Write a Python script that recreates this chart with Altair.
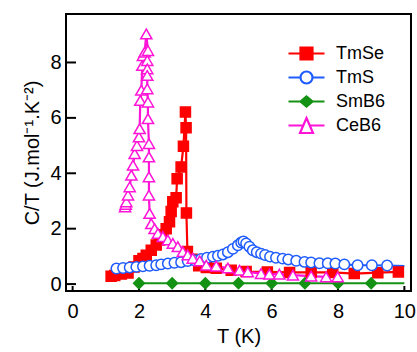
import altair as alt
import pandas as pd

series_names = ["TmSe", "TmS", "SmB6", "CeB6"]
colors = ["#ff0000", "#1f5cff", "#149214", "#ff14d8"]
fills = ["#ff0000", "#ffffff", "#149214", "#ffffff"]
shapes = ["square", "circle", "diamond", "triangle-up"]
sizes = [100, 125, 95, 125]
legend_paths = [
    "M-1.8,0H-0.6M0.6,0H1.8M-0.6,-0.6H0.6V0.6H-0.6Z",
    "M-1.8,0H-0.6M0.6,0H1.8M0.6,0A0.6,0.6,0,1,1,-0.6,0A0.6,0.6,0,1,1,0.6,0Z",
    "M-1.8,0H-0.6M0.6,0H1.8M-0.6,0L0,-0.5L0.6,0L0,0.5Z",
    "M-1.8,0H-0.33M0.33,0H1.8M0,-0.75L0.65,0.75H-0.65Z",
]

tmse_T = [1.16, 1.27, 1.47, 1.67, 1.85, 2.0, 2.12, 2.22, 2.37, 2.52, 2.62, 2.72, 2.82,
          2.92, 2.97, 3.02, 3.12, 3.15, 3.27, 3.34, 3.40, 3.42, 3.43, 3.46, 3.6, 3.8,
          4.03, 4.33, 4.78, 5.23, 5.87, 6.54, 7.19, 7.84, 8.49, 9.2, 9.82]
tmse_C = [0.28, 0.31, 0.36, 0.40, 0.62, 0.84, 0.92, 1.04, 1.22, 1.41, 1.59, 1.78, 2.0,
          2.25, 2.62, 2.97, 3.12, 3.8, 4.23, 4.98, 6.21, 5.64, 2.57, 1.18, 0.9, 0.66,
          0.6, 0.57, 0.5, 0.45, 0.44, 0.42, 0.42, 0.42, 0.38, 0.41, 0.44]

tms_T = [1.32, 1.52, 1.72, 1.92, 2.12, 2.32, 2.52, 2.67, 2.87, 3.07, 3.27, 3.47, 3.67,
         3.87, 4.05, 4.23, 4.38, 4.53, 4.68, 4.83, 4.98, 5.08, 5.15, 5.23, 5.33, 5.43,
         5.55, 5.68, 5.8, 5.95, 6.13, 6.33, 6.5, 6.74, 6.99, 7.19, 7.44, 7.69, 7.92,
         8.19, 8.59, 9.02, 9.48, 10.0]
tms_C = [0.56, 0.58, 0.60, 0.62, 0.64, 0.66, 0.68, 0.71, 0.74, 0.77, 0.79, 0.83, 0.86,
         0.91, 0.95, 0.99, 1.02, 1.07, 1.15, 1.27, 1.40, 1.50, 1.54, 1.47, 1.35, 1.22,
         1.15, 1.10, 1.05, 0.99, 0.95, 0.92, 0.89, 0.84, 0.80, 0.78, 0.75, 0.75, 0.74,
         0.71, 0.68, 0.68, 0.67, 0.65]
tms_mark = [True] * 43 + [False]

smb6_T = [2, 3, 4, 5, 6, 7, 8, 9, 10]
smb6_C = [0.03, 0.03, 0.03, 0.03, 0.03, 0.03, 0.03, 0.03, 0.03]
smb6_mark = [True] * 8 + [False]

ceb6_T = [1.58, 1.60, 1.62, 1.67, 1.72, 1.77, 1.82, 1.87, 1.94, 2.0, 2.02, 2.04, 2.07,
          2.10, 2.12, 2.17, 2.22, 2.27, 2.25, 2.25, 2.25, 2.25, 2.27, 2.27, 2.3, 2.3,
          2.3, 2.3, 2.32, 2.37, 2.47, 2.57, 2.72, 2.87, 3.02, 3.17, 3.32, 3.47, 3.62,
          3.83, 4.03, 4.33, 4.68, 5.03, 5.28, 5.68, 5.93, 6.23, 6.64, 7.19, 7.64, 7.99]
ceb6_C = [2.79, 2.88, 2.97, 3.21, 3.51, 3.93, 4.29, 4.71, 5.0, 5.31, 5.61, 6.63, 7.0,
          7.89, 8.25, 8.37, 9.03, 8.43, 8.07, 7.77, 7.53, 7.05, 6.57, 5.97, 5.07, 4.59,
          3.87, 3.21, 2.55, 2.18, 2.0, 1.83, 1.71, 1.59, 1.47, 1.35, 1.17, 1.05, 0.93,
          0.84, 0.68, 0.65, 0.58, 0.5, 0.44, 0.38, 0.36, 0.36, 0.32, 0.29, 0.26, 0.26]

x_ticks = [0, 2, 4, 6, 8, 10]
y_ticks = [0, 2, 4, 6, 8]

rows = []
def add(name, T, C, marks=None):
    for i, (t, c) in enumerate(zip(T, C)):
        rows.append({"series": name, "T": t, "C": c, "idx": i,
                     "mark": True if marks is None else marks[i]})

add("TmSe", tmse_T, tmse_C)
add("SmB6", smb6_T, smb6_C, smb6_mark)
add("TmS", tms_T, tms_C, tms_mark)
add("CeB6", ceb6_T, ceb6_C)
df = pd.DataFrame(rows)

FONT = "Liberation Sans"
xs = alt.Scale(domain=[-0.2, 10.2], nice=False, zero=False)
ys = alt.Scale(domain=[-0.25, 9.75], nice=False, zero=False)

x_enc = alt.X("T:Q", scale=xs, axis=alt.Axis(values=x_ticks, title="T (K)", ticks=False,
              domain=False, grid=False, labelFontSize=20, titleFontSize=20,
              labelPadding=10, titlePadding=5, titleFontWeight="normal",
              labelFont=FONT, titleFont=FONT, labelColor="black", titleColor="black"))
y_enc = alt.Y("C:Q", scale=ys, axis=alt.Axis(values=y_ticks, title="C/T (J.mol⁻¹.K⁻²)",
              ticks=False, domain=False, grid=False, labelFontSize=20, titleFontSize=20,
              labelPadding=5, titlePadding=7, titleFontWeight="normal",
              labelFont=FONT, titleFont=FONT, labelColor="black", titleColor="black"))

lines = alt.Chart(df).mark_line(strokeWidth=2.2, clip=True).encode(
    x=x_enc, y=y_enc,
    color=alt.Color("series:N", scale=alt.Scale(domain=series_names, range=colors), legend=None),
    order="idx:Q",
)

points = alt.Chart(df).transform_filter("datum.mark").mark_point(
    strokeWidth=1.5, opacity=1, fillOpacity=1, clip=True).encode(
    x=x_enc, y=y_enc,
    stroke=alt.Stroke("series:N", scale=alt.Scale(domain=series_names, range=colors), legend=None),
    fill=alt.Fill("series:N", scale=alt.Scale(domain=series_names, range=fills), legend=None),
    shape=alt.Shape("series:N", scale=alt.Scale(domain=series_names, range=shapes), legend=None),
    size=alt.Size("series:N", scale=alt.Scale(domain=series_names, range=sizes), legend=None),
)

leg = alt.Legend(title=None, orient="none", legendX=229, legendY=28, padding=0,
                 symbolSize=400, symbolStrokeWidth=2.2, labelFontSize=18, labelFont=FONT,
                 labelOffset=18, rowPadding=2, labelColor="black")
legend_layer = alt.Chart(df).transform_filter("false").mark_point(
    strokeWidth=2, opacity=1, fillOpacity=1).encode(
    stroke=alt.Stroke("series:N", scale=alt.Scale(domain=series_names, range=colors), legend=leg),
    fill=alt.Fill("series:N", scale=alt.Scale(domain=series_names, range=fills), legend=leg),
    shape=alt.Shape("series:N", scale=alt.Scale(domain=series_names, range=legend_paths), legend=leg),
)

ytick_layer = alt.Chart(pd.DataFrame({"v": y_ticks})).mark_rule(
    color="black", strokeWidth=2).encode(
    y=alt.Y("v:Q", scale=ys), x=alt.value(0), x2=alt.value(10))
xtick_layer = alt.Chart(pd.DataFrame({"v": x_ticks})).mark_rule(
    color="black", strokeWidth=2).encode(
    x=alt.X("v:Q", scale=xs), y=alt.value(277), y2=alt.value(272))

chart = alt.layer(ytick_layer, xtick_layer, lines, points, legend_layer).resolve_scale(
    shape="independent", stroke="independent", fill="independent"
).properties(
    width=345, height=277,
    autosize=alt.AutoSizeParams(type="none"),
    padding={"left": 66, "top": 14, "right": 6, "bottom": 61},
    background="white",
).configure_view(stroke="black", strokeWidth=2)

chart.save("out.html", embed_options={"renderer": "svg", "actions": False})
